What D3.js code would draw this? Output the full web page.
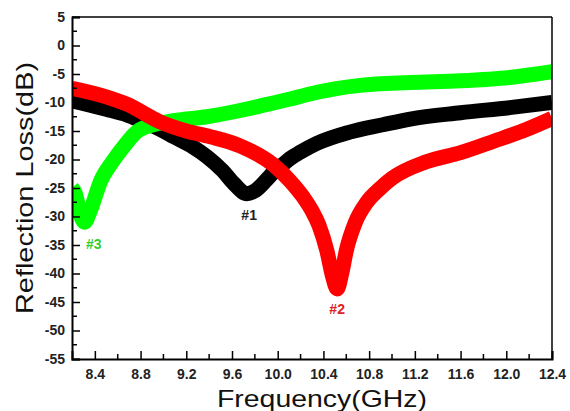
<!DOCTYPE html>
<html><head><meta charset="utf-8">
<script src="https://cdn.jsdelivr.net/npm/d3@7"></script>
<style>body{margin:0;background:#fff}svg{display:block}</style>
</head><body>
<svg id="c" width="570" height="411"></svg>
<script>
// Data
const freq1 = [8.2,8.5,8.68,8.8,9.0,9.09,9.25,9.38,9.52,9.62,9.73,9.8,9.9,9.96,10.05,10.11,10.2,10.34,10.63,10.92,11.16,11.6,12.03,12.4];
const rl1   = [-9.7,-11.2,-12.2,-13.2,-15.0,-16.0,-17.7,-19.5,-22.0,-24.3,-26.0,-25.5,-23.6,-22.3,-20.8,-19.8,-18.7,-17.2,-15.2,-13.9,-12.9,-11.8,-10.9,-10.0];
const freq2 = [8.2,8.5,8.68,8.97,9.2,9.41,9.67,9.96,10.11,10.22,10.3,10.36,10.43,10.48,10.52,10.56,10.6,10.68,10.78,10.9,11.0,11.3,11.6,11.89,12.18,12.4];
const rl2   = [-7.5,-9.0,-10.3,-13.4,-15.0,-16.0,-17.6,-20.9,-23.8,-26.5,-29.0,-31.5,-36.0,-40.5,-42.7,-40.0,-36.0,-31.0,-27.5,-25.0,-23.3,-20.4,-18.8,-16.8,-14.7,-12.8];
const freq3 = [8.2,8.23,8.27,8.31,8.36,8.45,8.55,8.65,8.79,9.09,9.38,9.67,9.85,10.11,10.28,10.5,10.72,11.16,11.6,12.03,12.4];
const rl3   = [-25.0,-26.0,-29.5,-31.0,-29.0,-23.8,-20.5,-17.8,-14.8,-13.2,-12.5,-11.4,-10.6,-9.4,-8.5,-7.6,-7.0,-6.5,-6.2,-5.6,-4.6];
const xTicks = [8.4,8.8,9.2,9.6,10.0,10.4,10.8,11.2,11.6,12.0,12.4];
const yTicks = [5,0,-5,-10,-15,-20,-25,-30,-35,-40,-45,-50,-55];
const labels = ["#1","#2","#3"];

const svg = d3.select("#c");
const L=72, R=552, T=17, B=359;
const x = d3.scaleLinear().domain([8.2,12.4]).range([L,R]);
const y = d3.scaleLinear().domain([-55,5]).range([B,T]);
const font = "'Liberation Sans', Arial, sans-serif";

svg.append("clipPath").attr("id","clip").append("rect")
  .attr("x",L).attr("y",T).attr("width",R-L).attr("height",B-T);

const line = d3.line().x(d=>x(d[0])).y(d=>y(d[1])).curve(d3.curveMonotoneX);
const series = [
  {f:freq1, v:rl1, c:"#000000"},
  {f:freq3, v:rl3, c:"#00ff00"},
  {f:freq2, v:rl2, c:"#ff0000"}
];
const g = svg.append("g").attr("clip-path","url(#clip)");
series.forEach(s=>{
  g.append("path").datum(s.f.map((f,i)=>[f,s.v[i]]))
   .attr("d",line).attr("fill","none").attr("stroke",s.c)
   .attr("stroke-width",15).attr("stroke-linejoin","round");
});

// frame
svg.append("line").attr("x1",L).attr("x2",R).attr("y1",T).attr("y2",T).attr("stroke","#000").attr("stroke-width",1.5);
svg.append("line").attr("x1",R).attr("x2",R).attr("y1",T).attr("y2",B).attr("stroke","#000").attr("stroke-width",1.5);

// minor ticks
const xMinor = d3.range(8.6,12.4,0.4);
const yMinor = d3.range(2.5,-55,-5);
svg.append("g").selectAll("line").data(xMinor).join("line")
  .attr("x1",d=>x(d)).attr("x2",d=>x(d)).attr("y1",B).attr("y2",B-5)
  .attr("stroke","#000").attr("stroke-width",1.5);
svg.append("g").selectAll("line").data(yMinor).join("line")
  .attr("x1",L).attr("x2",L+5).attr("y1",d=>y(d)).attr("y2",d=>y(d))
  .attr("stroke","#000").attr("stroke-width",1.5);

// axes
const xAx = svg.append("g").attr("transform",`translate(0,${B})`)
  .call(d3.axisBottom(x).tickValues(xTicks).tickSize(-8).tickPadding(10).tickFormat(d3.format(".1f")));
xAx.selectAll(".domain").attr("stroke-width",2);
xAx.selectAll(".tick line").attr("stroke-width",1.5);
xAx.selectAll("text").attr("font-family",font).attr("font-size",14).attr("font-weight","bold").attr("fill","#222");

const yAx = svg.append("g").attr("transform",`translate(${L},0)`)
  .call(d3.axisLeft(y).tickValues(yTicks).tickSize(-8).tickPadding(7).tickFormat(d=>String(d)));
yAx.selectAll(".domain").attr("stroke-width",2);
yAx.selectAll(".tick line").attr("stroke-width",1.5);
yAx.selectAll("text").attr("font-family",font).attr("font-size",14).attr("font-weight","bold").attr("fill","#222");

// titles
svg.append("text").attr("x",322).attr("y",407).attr("text-anchor","middle")
  .attr("font-family",font).attr("font-size",24).attr("fill","#111")
  .attr("textLength",210).attr("lengthAdjust","spacingAndGlyphs").text("Frequency(GHz)");
svg.append("text").attr("transform",`translate(33,${(T+B)/2}) rotate(-90)`).attr("text-anchor","middle")
  .attr("font-family",font).attr("font-size",24).attr("fill","#111")
  .attr("textLength",252).attr("lengthAdjust","spacingAndGlyphs").text("Reflection Loss(dB)");

// labels
const lab = [
  {t:labels[0], f:9.75, v:-26.0, dy:26, c:"#222"},
  {t:labels[1], f:10.52, v:-42.7, dy:25, c:"#d22"},
  {t:labels[2], f:8.39, v:-31.0, dy:27, c:"#3c3"}
];
lab.forEach(l=>{
  svg.append("text").attr("x",x(l.f)).attr("y",y(l.v)+l.dy).attr("text-anchor","middle")
    .attr("font-family",font).attr("font-size",14).attr("font-weight","bold").attr("fill",l.c).text(l.t);
});
</script>
</body></html>
